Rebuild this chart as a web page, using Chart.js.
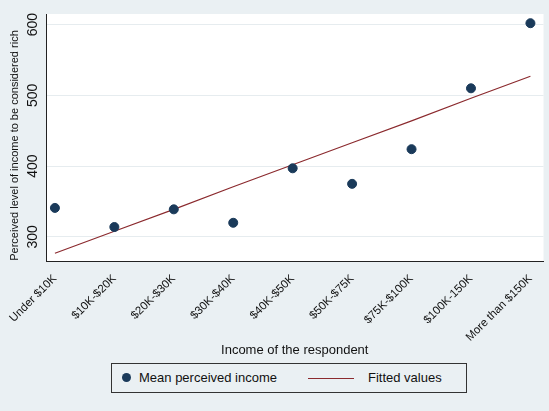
<!DOCTYPE html>
<html>
<head>
<script src="https://cdn.jsdelivr.net/npm/chart.js@4/dist/chart.umd.min.js"></script>
<style>
  body { margin: 0; background: #eaf0f3; font-family: "Liberation Sans", Arial, sans-serif; }
  #wrap { position: relative; width: 549px; height: 362px; }
  #legend { position: absolute; left: 111px; top: 363px; width: 354px; height: 28px; border: 1px solid #333;
            background: #eaf0f3; font-size: 13px; color: #111; }
  .item { position: absolute; top: 6px; }
  .dot { display: inline-block; width: 9px; height: 9px; border-radius: 50%; background: #1a3a5a; margin-right: 8px; }
  .ln { display: inline-block; width: 46px; height: 0; border-top: 1px solid #8b2a2e; vertical-align: middle; margin-right: 14px; }
</style>
</head>
<body>
<div id="wrap"><canvas id="c" width="549" height="362"></canvas></div>
<div id="legend">
  <span class="item" style="left:10px"><span class="dot"></span>Mean perceived income</span>
  <span class="item" style="left:196px"><span class="ln"></span>Fitted values</span>
</div>
<script>
const categories = ['Under $10K', '$10K-$20K', '$20K-$30K', '$30K-$40K', '$40K-$50K',
                    '$50K-$75K', '$75K-$100K', '$100K-150K', 'More than $150K'];
const meanIncome = [341, 314, 339, 320, 397, 375, 424, 510, 602];
const fitted = [277, 308, 339, 371, 402, 433, 464, 496, 527];
const yTicks = [300, 400, 500, 600];
const FONT = '"Liberation Sans", Arial, sans-serif';

const rotatedText = {
  id: 'rotatedText',
  afterDraw(chart) {
    const ctx = chart.ctx, y = chart.scales.y, a = chart.chartArea;
    ctx.save();
    ctx.fillStyle = '#111';
    ctx.textAlign = 'center';
    ctx.textBaseline = 'bottom';
    ctx.font = '14px ' + FONT;
    yTicks.forEach(v => {
      ctx.save();
      ctx.translate(a.left - 6, y.getPixelForValue(v));
      ctx.rotate(-Math.PI / 2);
      ctx.fillText(String(v), 0, 0);
      ctx.restore();
    });
    ctx.font = '11px ' + FONT;
    ctx.translate(20, (a.top + a.bottom) / 2 + 8);
    ctx.rotate(-Math.PI / 2);
    ctx.fillText('Perceived level of income to be considered rich', 0, 0);
    ctx.restore();
  }
};

const plotBg = {
  id: 'plotBg',
  beforeDraw(chart) {
    const a = chart.chartArea, ctx = chart.ctx;
    ctx.save();
    ctx.fillStyle = '#ffffff';
    ctx.fillRect(a.left, a.top, a.right - a.left, a.bottom - a.top);
    ctx.restore();
  }
};

new Chart(document.getElementById('c'), {
  type: 'scatter',
  data: {
    datasets: [
      {
        label: 'Mean perceived income',
        data: meanIncome.map((v, i) => ({ x: i, y: v })),
        backgroundColor: '#1a3a5a',
        borderColor: '#1a3a5a',
        pointRadius: 4.5
      },
      {
        label: 'Fitted values',
        type: 'line',
        data: fitted.map((v, i) => ({ x: i, y: v })),
        borderColor: '#8b2a2e',
        borderWidth: 1.2,
        pointRadius: 0,
        tension: 0
      }
    ]
  },
  options: {
    responsive: false,
    animation: false,
    layout: { padding: { left: 0, right: 4, top: 14, bottom: 0 } },
    plugins: { legend: { display: false }, tooltip: { enabled: false } },
    scales: {
      x: {
        type: 'linear', min: -0.15, max: 8.22,
        afterBuildTicks: s => { s.ticks = categories.map((c, i) => ({ value: i })); },
        afterFit: s => { s.height = 101; },
        ticks: {
          callback: v => categories[v],
          maxRotation: 45, minRotation: 45,
          color: '#111', font: { size: 11.5, family: FONT }
        },
        grid: { display: false },
        border: { color: '#222' },
        title: { display: true, text: 'Income of the respondent', color: '#111',
                 font: { size: 13, family: FONT }, padding: { top: 0, bottom: 4 } }
      },
      y: {
        min: 266, max: 615,
        afterBuildTicks: s => { s.ticks = yTicks.map(v => ({ value: v })); },
        afterFit: s => { s.width = 46; },
        ticks: { display: false },
        grid: { color: '#e6ecef', drawTicks: false },
        border: { color: '#222' }
      }
    }
  },
  plugins: [plotBg, rotatedText]
});
</script>
</body>
</html>
